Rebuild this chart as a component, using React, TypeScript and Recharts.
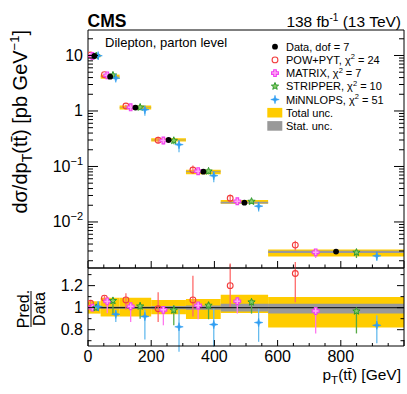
import React from 'react'
import {
  ComposedChart,
  Scatter,
  XAxis,
  YAxis,
  ErrorBar,
  ReferenceArea,
  ReferenceLine,
} from 'recharts'

// pT(ttbar) bin edges [GeV]
const binEdges = [0, 40, 100, 200, 310, 420, 570, 1000]

// measured dsigma/dpT [pb/GeV]
const dataValues = [9.8, 4.15, 1.15, 0.3, 0.0806, 0.0223, 0.00292]
const dataDof = 7

// uncertainty bands, relative to data
const totalLo = [0.946, 0.92, 0.92, 0.94, 0.898, 0.952, 0.82]
const totalHi = [1.058, 1.09, 1.09, 1.07, 1.078, 1.117, 1.096]
const statLo = [0.993, 0.99, 0.99, 0.985, 0.98, 0.966, 0.948]
const statHi = [1.007, 1.01, 1.01, 1.015, 1.02, 1.035, 1.036]

// predictions / data, with error bar ends
const powRatio = [1.04, 1.087, 1.07, 0.99, 1.07, 1.2, 1.31]
const powLo = [1.01, 1.06, 0.98, 0.87, 0.92, 1.005, 1.05]
const powHi = [1.07, 1.11, 1.13, 1.14, 1.29, 1.4, 1.57]

const matrixRatio = [1.0, 1.057, 1.013, 0.98, 1.02, 1.058, 0.97]
const matrixLo = [0.97, 0.95, 0.87, 0.84, 0.895, 0.946, 0.766]
const matrixHi = [1.03, 1.09, 1.04, 1.0, 1.03, 1.08, 0.99]

const stripperRatio = [1.0, 1.063, 1.013, 0.977, 1.02, 1.05, 0.968]
const stripperLo = [0.97, 0.94, 0.9, 0.84, 0.895, 0.946, 0.766]
const stripperHi = [1.03, 1.076, 1.05, 1.025, 1.05, 1.08, 0.99]

const minnloRatio = [1.01, 0.94, 0.92, 0.826, 0.847, 0.865, 0.84]
const minnloLo = [0.97, 0.87, 0.71, 0.6, 0.646, 0.69, 0.676]
const minnloHi = [1.06, 0.98, 0.98, 0.98, 0.99, 0.99, 0.93]

const predNames = ['POW+PYT', 'MATRIX', 'STRIPPER', 'MiNNLOPS']
const predChi2 = [24, 7, 10, 51]

const xTickValues = [0, 50, 100, 150, 200, 250, 300, 350, 400, 450, 500, 550, 600, 650, 700, 750, 800, 850, 900, 950, 1000]
const ratioTicks = [0.7, 0.8, 0.9, 1.0, 1.1, 1.2, 1.3]
const logDomain = [0.00148, 28.8]
const ratioDomain = [0.652, 1.36]

const FONT = '"Liberation Sans", Arial, Helvetica, sans-serif'
const W = 407
const H = 394
const PL = 88
const PR = 404
const TOP_Y0 = 30
const TOP_Y1 = 268
const RAT_Y1 = 346
const RAT_SVG_TOP = 262

const YELLOW = '#ffcc00'
const GREY = '#999999'

// minor + major ticks of the log axis
const logTicks: number[] = []
for (let e = -3; e <= 1; e++) {
  for (let m = 1; m <= 9; m++) {
    const v = Number((m * Math.pow(10, e)).toPrecision(3))
    if (v >= logDomain[0] && v <= logDomain[1]) logTicks.push(v)
  }
}

const centers = binEdges.slice(0, -1).map((e, i) => (e + binEdges[i + 1]) / 2)
const widths = binEdges.slice(0, -1).map((e, i) => binEdges[i + 1] - e)

type Kind = 'dot' | 'circle' | 'cross' | 'star' | 'spark'

const styles = [
  { kind: 'circle' as Kind, color: '#f23c3c', fill: 'none', bar: '#ff6b6b', shift: -0.3 },
  { kind: 'cross' as Kind, color: '#f040f0', fill: '#ffa8f5', bar: '#ff77ee', shift: -0.15 },
  { kind: 'star' as Kind, color: '#2e9a2e', fill: '#88cc66', bar: '#55aa44', shift: 0.15 },
  { kind: 'spark' as Kind, color: '#2f9df2', fill: '#2f9df2', bar: '#66bbee', shift: 0.3 },
]

const preds = [
  { ratio: powRatio, lo: powLo, hi: powHi },
  { ratio: matrixRatio, lo: matrixLo, hi: matrixHi },
  { ratio: stripperRatio, lo: stripperLo, hi: stripperHi },
  { ratio: minnloRatio, lo: minnloLo, hi: minnloHi },
]

const topData = dataValues.map((v, i) => ({ x: centers[i], y: v }))

const predTop = preds.map((p, k) =>
  p.ratio.map((r, i) => ({
    x: centers[i] + styles[k].shift * widths[i],
    y: dataValues[i] * r,
    err: [dataValues[i] * (r - p.lo[i]), dataValues[i] * (p.hi[i] - r)],
  }))
)

const predRatio = preds.map((p, k) =>
  p.ratio.map((r, i) => ({
    x: centers[i] + styles[k].shift * widths[i],
    y: r,
    err: [r - p.lo[i], p.hi[i] - r],
  }))
)

function Marker({ kind, cx, cy, color, fill }: { kind: Kind; cx: number; cy: number; color: string; fill: string }) {
  if (kind === 'dot') return <circle cx={cx} cy={cy} r={2.9} fill="#000" />
  if (kind === 'circle') return <circle cx={cx} cy={cy} r={2.9} fill="none" stroke={color} strokeWidth={1.1} />
  if (kind === 'cross') {
    const a = 1.3
    const b = 3.4
    const d = `M${cx - a},${cy - b}H${cx + a}V${cy - a}H${cx + b}V${cy + a}H${cx + a}V${cy + b}H${cx - a}V${cy + a}H${cx - b}V${cy - a}H${cx - a}Z`
    return <path d={d} fill={fill} stroke={color} strokeWidth={1.1} />
  }
  if (kind === 'star') {
    const pts: string[] = []
    for (let i = 0; i < 10; i++) {
      const r = i % 2 === 0 ? 3.8 : 1.6
      const ang = -Math.PI / 2 + (i * Math.PI) / 5
      pts.push(`${cx + r * Math.cos(ang)},${cy + r * Math.sin(ang)}`)
    }
    return <polygon points={pts.join(' ')} fill={fill} stroke={color} strokeWidth={1} />
  }
  const o = 4.2
  const n = 0.9
  const d = `M${cx},${cy - o}L${cx + n},${cy - n}L${cx + o},${cy}L${cx + n},${cy + n}L${cx},${cy + o}L${cx - n},${cy + n}L${cx - o},${cy}L${cx - n},${cy - n}Z`
  return <path d={d} fill={fill} stroke={color} strokeWidth={0.6} />
}

const xTick = (dir: number, major: number, minor: number, labels: boolean) => (p: any) => {
  const v = p.payload.value
  const isMajor = v % 200 === 0
  const len = isMajor ? major : minor
  return (
    <g>
      <line x1={p.x} y1={p.y} x2={p.x} y2={p.y + dir * len} stroke="#000" strokeWidth={1} />
      {labels && isMajor && v < 1000 && (
        <text x={p.x} y={p.y + 16.3} textAnchor="middle" fontSize={16} fontFamily={FONT} fill="#000">
          {v}
        </text>
      )}
    </g>
  )
}

const logTick = (dir: number, labels: boolean) => (p: any) => {
  const v = p.payload.value
  const e = Math.log10(v)
  const isMajor = Math.abs(e - Math.round(e)) < 1e-6
  const len = isMajor ? 10 : 5
  const ex = Math.round(e)
  return (
    <g>
      <line x1={p.x} y1={p.y} x2={p.x + dir * len} y2={p.y} stroke="#000" strokeWidth={1} />
      {labels && isMajor && ex >= 0 && (
        <text x={p.x - 5} y={p.y + 5.5} textAnchor="end" fontSize={16} fontFamily={FONT} fill="#000">
          {String(Math.pow(10, ex))}
        </text>
      )}
      {labels && isMajor && ex < 0 && (
        <text x={p.x - 5} y={p.y + 5.5} textAnchor="end" fontSize={16} fontFamily={FONT} fill="#000">
          <tspan>10</tspan>
          <tspan dy={-7} fontSize={11}>
            {'\u2212' + -ex}
          </tspan>
        </text>
      )}
    </g>
  )
}

const ratioTick = (dir: number, labels: boolean) => (p: any) => {
  const v = p.payload.value
  const isMajor = Math.round(v * 10) % 2 === 0
  const len = isMajor ? 7 : 3.5
  return (
    <g>
      <line x1={p.x} y1={p.y} x2={p.x + dir * len} y2={p.y} stroke="#000" strokeWidth={1} />
      {labels && isMajor && (
        <text x={p.x - 5} y={p.y + 5.5} textAnchor="end" fontSize={16} fontFamily={FONT} fill="#000">
          {Number(v.toFixed(1)).toString()}
        </text>
      )}
    </g>
  )
}

function Overlay() {
  const lx = 275
  const ty = 50.7
  const row = 13.2
  return (
    <svg width={W} height={H} style={{ position: 'absolute', left: 0, top: 0, pointerEvents: 'none' }} fontFamily={FONT}>
      <text x={87.5} y={26.7} fontSize={17.5} fontWeight="bold">
        CMS
      </text>
      <text x={401} y={26.7} fontSize={15.5} textAnchor="end">
        <tspan>138 fb</tspan>
        <tspan dy={-6} fontSize={10}>-1</tspan>
        <tspan dy={6}> (13 TeV)</tspan>
      </text>
      <text x={105} y={47.3} fontSize={13}>
        Dilepton, parton level
      </text>

      {/* legend */}
      <Marker kind="dot" cx={lx} cy={ty - 4} color="#000" fill="#000" />
      <text x={286} y={ty} fontSize={11}>
        Data, dof = {dataDof}
      </text>
      {predNames.map((n, k) => (
        <g key={n}>
          <Marker kind={styles[k].kind} cx={lx} cy={ty - 4 + row * (k + 1)} color={styles[k].color} fill={styles[k].fill} />
          <text x={286} y={ty + row * (k + 1)} fontSize={11}>
            <tspan>{n + ', \u03c7'}</tspan>
            <tspan dy={-4.5} fontSize={7.5}>2</tspan>
            <tspan dy={4.5}>{' = ' + predChi2[k]}</tspan>
          </text>
        </g>
      ))}
      <rect x={267.3} y={ty - 4 + row * 5 - 4.8} width={15} height={9.6} fill={YELLOW} />
      <text x={286} y={ty + row * 5} fontSize={11}>
        Total unc.
      </text>
      <rect x={267.3} y={ty - 4 + row * 6 - 4.8} width={15} height={9.6} fill={GREY} />
      <text x={286} y={ty + row * 6} fontSize={11}>
        Stat. unc.
      </text>

      {/* y title */}
      <text transform="translate(27,30) rotate(-90)" textAnchor="end" fontSize={20}>
        <tspan>{'d\u03c3/dp'}</tspan>
        <tspan dy={5} fontSize={14}>T</tspan>
        <tspan dy={-5}>{'(tt\u0304) [pb GeV'}</tspan>
        <tspan dy={-8} fontSize={13}>{'\u22121'}</tspan>
        <tspan dy={8}>]</tspan>
      </text>

      {/* ratio title */}
      <g transform="translate(31,309) rotate(-90)">
        <text x={0} y={-2.5} textAnchor="middle" fontSize={16}>
          Pred.
        </text>
        <line x1={-18} x2={18} y1={0} y2={0} stroke="#000" strokeWidth={1} />
        <text x={0} y={14} textAnchor="middle" fontSize={16}>
          Data
        </text>
      </g>

      {/* x title */}
      <text x={401} y={380} textAnchor="end" fontSize={15.5}>
        <tspan>p</tspan>
        <tspan dy={4} fontSize={11.5}>T</tspan>
        <tspan dy={-4}>{'(tt\u0304) [GeV]'}</tspan>
      </text>
    </svg>
  )
}

export default function App() {
  return (
    <div style={{ position: 'absolute', left: 0, top: 0, width: W, height: H, background: '#fff', fontFamily: FONT }}>
      <div style={{ position: 'absolute', left: 0, top: 0 }}>
        <ComposedChart width={W} height={TOP_Y1 + 2} margin={{ top: TOP_Y0 - 1, left: PL - 1, right: W - PR - 1, bottom: 1 }}>
          <XAxis
            xAxisId="b"
            dataKey="x"
            type="number"
            domain={[0, 1000]}
            allowDataOverflow
            ticks={xTickValues}
            interval={0}
            height={1}
            tickSize={0}
            tickMargin={0}
            tickLine={false}
            tick={xTick(-1, 7, 3.5, false)}
            axisLine={{ stroke: '#000' }}
          />
          <XAxis
            xAxisId="t"
            orientation="top"
            type="number"
            domain={[0, 1000]}
            allowDataOverflow
            ticks={xTickValues}
            interval={0}
            height={1}
            tickSize={0}
            tickMargin={0}
            tickLine={false}
            tick={xTick(1, 7, 3.5, false)}
            axisLine={{ stroke: '#000' }}
          />
          <YAxis
            yAxisId="l"
            dataKey="y"
            type="number"
            scale="log"
            domain={logDomain}
            allowDataOverflow
            ticks={logTicks}
            interval={0}
            width={1}
            tickSize={0}
            tickMargin={0}
            tickLine={false}
            tick={logTick(1, true)}
            axisLine={{ stroke: '#000' }}
          />
          <YAxis
            yAxisId="r"
            orientation="right"
            type="number"
            scale="log"
            domain={logDomain}
            allowDataOverflow
            ticks={logTicks}
            interval={0}
            width={1}
            tickSize={0}
            tickMargin={0}
            tickLine={false}
            tick={logTick(-1, false)}
            axisLine={{ stroke: '#000' }}
          />
          {dataValues.map((v, i) => (
            <ReferenceArea
              key={'tot' + i}
              xAxisId="b"
              yAxisId="l"
              x1={binEdges[i]}
              x2={binEdges[i + 1]}
              y1={v * totalLo[i]}
              y2={v * totalHi[i]}
              fill={YELLOW}
              fillOpacity={1}
              stroke="none"
              ifOverflow="visible"
            />
          ))}
          {dataValues.map((v, i) => (
            <ReferenceArea
              key={'stat' + i}
              xAxisId="b"
              yAxisId="l"
              x1={binEdges[i]}
              x2={binEdges[i + 1]}
              y1={v * statLo[i]}
              y2={v * statHi[i]}
              fill={GREY}
              fillOpacity={1}
              stroke="none"
              ifOverflow="visible"
            />
          ))}
          {predTop.map((pts, k) => (
            <Scatter
              key={predNames[k]}
              name={predNames[k]}
              data={pts}
              dataKey="y"
              xAxisId="b"
              yAxisId="l"
              isAnimationActive={false}
              shape={(p: any) => <Marker kind={styles[k].kind} cx={p.cx} cy={p.cy} color={styles[k].color} fill={styles[k].fill} />}
            >
              <ErrorBar dataKey="err" direction="y" width={0} stroke={styles[k].bar} strokeWidth={1.3} isAnimationActive={false} />
            </Scatter>
          ))}
          <Scatter
            name="Data"
            data={topData}
            dataKey="y"
            xAxisId="b"
            yAxisId="l"
            isAnimationActive={false}
            shape={(p: any) => <Marker kind="dot" cx={p.cx} cy={p.cy} color="#000" fill="#000" />}
          />
        </ComposedChart>
      </div>

      <div style={{ position: 'absolute', left: 0, top: RAT_SVG_TOP }}>
        <ComposedChart
          width={W}
          height={H - RAT_SVG_TOP}
          margin={{ top: TOP_Y1 - RAT_SVG_TOP - 1, left: PL - 1, right: W - PR - 1, bottom: H - RAT_Y1 - 1 }}
        >
          <XAxis
            xAxisId="b"
            dataKey="x"
            type="number"
            domain={[0, 1000]}
            allowDataOverflow
            ticks={xTickValues}
            interval={0}
            height={1}
            tickSize={0}
            tickMargin={0}
            tickLine={false}
            tick={xTick(-1, 6, 3, true)}
            axisLine={{ stroke: '#000' }}
          />
          <XAxis
            xAxisId="t"
            orientation="top"
            type="number"
            domain={[0, 1000]}
            allowDataOverflow
            ticks={xTickValues}
            interval={0}
            height={1}
            tickSize={0}
            tickMargin={0}
            tickLine={false}
            tick={xTick(1, 6, 3, false)}
            axisLine={{ stroke: '#000' }}
          />
          <YAxis
            yAxisId="l"
            dataKey="y"
            type="number"
            domain={ratioDomain}
            allowDataOverflow
            ticks={ratioTicks}
            interval={0}
            width={1}
            tickSize={0}
            tickMargin={0}
            tickLine={false}
            tick={ratioTick(1, true)}
            axisLine={{ stroke: '#000' }}
          />
          <YAxis
            yAxisId="r"
            orientation="right"
            type="number"
            domain={ratioDomain}
            allowDataOverflow
            ticks={ratioTicks}
            interval={0}
            width={1}
            tickSize={0}
            tickMargin={0}
            tickLine={false}
            tick={ratioTick(-1, false)}
            axisLine={{ stroke: '#000' }}
          />
          {binEdges.slice(0, -1).map((e, i) => (
            <ReferenceArea
              key={'rtot' + i}
              xAxisId="b"
              yAxisId="l"
              x1={e}
              x2={binEdges[i + 1]}
              y1={totalLo[i]}
              y2={totalHi[i]}
              fill={YELLOW}
              fillOpacity={1}
              stroke="none"
              ifOverflow="visible"
            />
          ))}
          {binEdges.slice(0, -1).map((e, i) => (
            <ReferenceArea
              key={'rstat' + i}
              xAxisId="b"
              yAxisId="l"
              x1={e}
              x2={binEdges[i + 1]}
              y1={statLo[i]}
              y2={statHi[i]}
              fill={GREY}
              fillOpacity={1}
              stroke="none"
              ifOverflow="visible"
            />
          ))}
          <ReferenceLine xAxisId="b" yAxisId="l" y={1} stroke="#222" strokeWidth={1.2} />
          {predRatio.map((pts, k) => (
            <Scatter
              key={predNames[k]}
              name={predNames[k]}
              data={pts}
              dataKey="y"
              xAxisId="b"
              yAxisId="l"
              isAnimationActive={false}
              shape={(p: any) => <Marker kind={styles[k].kind} cx={p.cx} cy={p.cy} color={styles[k].color} fill={styles[k].fill} />}
            >
              <ErrorBar dataKey="err" direction="y" width={0} stroke={styles[k].bar} strokeWidth={1.3} isAnimationActive={false} />
            </Scatter>
          ))}
        </ComposedChart>
      </div>

      <Overlay />
    </div>
  )
}
